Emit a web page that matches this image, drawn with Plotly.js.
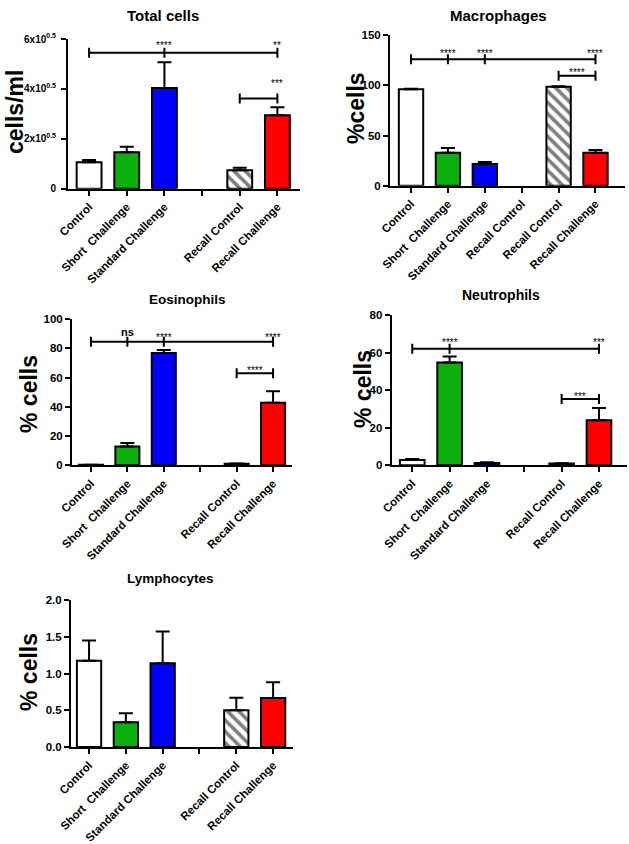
<!DOCTYPE html>
<html>
<head>
<meta charset="utf-8">
<script src="https://cdn.plot.ly/plotly-3.0.1.min.js"></script>
<style>html,body{margin:0;padding:0;background:#fff;}#chart{width:629px;height:844px;}</style>
</head>
<body>
<div id="chart"></div>
<script>
// ---------- DATA ----------
const groupLabels = ["Control", "Short\u00a0 Challenge", "Standard Challenge", "", "Recall Control", "Recall Challenge"];
const macroLabels = ["Control", "Short\u00a0 Challenge", "Standard Challenge", "Recall Control", "Recall Control", "Recall Challenge"];
const barColors = ["#ffffff", "#0cb00c", "#0000ff", "#ffffff", "#ffffff", "#ff0000"];
const hatchedIndex = 4;   // "Recall Control" bar is hatched

const panelTitles = ["Total cells", "Macrophages", "Eosinophils", "Neutrophils", "Lymphocytes"];
const yTitles = ["cells/ml", "%cells", "% cells", "% cells", "% cells"];

const totalMean = [1.06e5, 1.46e5, 4.04e5, null, 0.74e5, 2.94e5];
const totalErr  = [0.09e5, 0.22e5, 1.03e5, null, 0.10e5, 0.32e5];
const totalTickVals = [0, 2e5, 4e5, 6e5];
const totalTickText = ["0", "2x10<sup>0.5</sup>", "4x10<sup>0.5</sup>", "6x10<sup>0.5</sup>"];

const macroMean = [96.1, 32.9, 21.6, null, 98.8, 32.9];
const macroErr  = [0.5, 4.7, 2.0, null, 0.3, 2.7];

const eosMean = [0.3, 12.8, 76.8, null, 1.1, 42.8];
const eosErr  = [0.1, 2.5, 2.0, null, 0.2, 7.8];

const neutMean = [2.8, 54.8, 1.2, null, 0.9, 24.0];
const neutErr  = [0.6, 3.2, 0.4, null, 0.2, 6.6];

const lymphMean = [1.175, 0.336, 1.14, null, 0.50, 0.667];
const lymphErr  = [0.275, 0.122, 0.43, null, 0.17, 0.213];

// significance brackets: from/to category index, y level, tick positions
const totalBrackets = [{from: 0, to: 5, y: 5.45e5, ticks: [0, 2, 5]}, {from: 4, to: 5, y: 3.62e5, ticks: [4, 5]}];
const macroBrackets = [{from: 0, to: 5, y: 126, ticks: [0, 1, 2, 5]}, {from: 4, to: 5, y: 109.7, ticks: [4, 5]}];
const eosBrackets   = [{from: 0, to: 5, y: 84.5, ticks: [0, 1, 2, 5]}, {from: 4, to: 5, y: 62.9, ticks: [4, 5]}];
const neutBrackets  = [{from: 0, to: 5, y: 62.2, ticks: [0, 1, 5]}, {from: 4, to: 5, y: 35.4, ticks: [4, 5]}];

const totalStars = [{x: 2, y: 5.86e5, text: "****"}, {x: 5, y: 5.86e5, text: "**"}, {x: 5, y: 4.32e5, text: "***"}];
const macroStars = [{x: 1, y: 134.7, text: "****"}, {x: 2, y: 134.7, text: "****"}, {x: 5, y: 134.7, text: "****"}, {x: 4.5, y: 115.4, text: "****"}];
const eosStars   = [{x: 1, y: 91.3, text: "ns"}, {x: 2, y: 89.5, text: "****"}, {x: 5, y: 89.5, text: "****"}, {x: 4.5, y: 66.7, text: "****"}];
const neutStars  = [{x: 1, y: 67.2, text: "****"}, {x: 5, y: 67.2, text: "***"}, {x: 4.5, y: 38.4, text: "***"}];

// ---------- LAYOUT GEOMETRY ----------
const W = 629, H = 844;
const FONT = "Liberation Sans, Arial, Helvetica, sans-serif";
const px2x = v => v / W;
const px2y = v => 1 - v / H;

const panels = [
  {mean: totalMean, err: totalErr, labels: groupLabels, brackets: totalBrackets, stars: totalStars,
   xd: [68, 300], yd: [188.7, 39], xr: [-0.56, 5.6], yr: [0, 6e5], tv: totalTickVals, tt: totalTickText, tfs: 10, tso: 3,
   title: [163, 15, 15], ytitle: [15, 112]},
  {mean: macroMean, err: macroErr, labels: macroLabels, brackets: macroBrackets, stars: macroStars,
   xd: [390, 625], yd: [185.7, 35.3], xr: [-0.57, 5.8], yr: [0, 150], tv: [0, 50, 100, 150],
   title: [498, 16, 15], ytitle: [356, 108]},
  {mean: eosMean, err: eosErr, labels: groupLabels, brackets: eosBrackets, stars: eosStars,
   xd: [72, 292], yd: [465.3, 319], xr: [-0.52, 5.52], yr: [0, 100], tv: [0, 20, 40, 60, 80, 100],
   title: [187, 299, 13.5], ytitle: [29, 394]},
  {mean: neutMean, err: neutErr, labels: groupLabels, brackets: neutBrackets, stars: neutStars,
   xd: [391.7, 627], yd: [465.3, 315.3], xr: [-0.55, 5.75], yr: [0, 80], tv: [0, 20, 40, 60, 80],
   title: [501, 295, 14], ytitle: [363, 389]},
  {mean: lymphMean, err: lymphErr, labels: groupLabels, brackets: [], stars: [],
   xd: [71, 293], yd: [747, 600], xr: [-0.49, 5.54], yr: [0, 2], tv: [0, 0.5, 1, 1.5, 2], tt: ["0.0", "0.5", "1.0", "1.5", "2.0"],
   title: [170, 578, 13.5], ytitle: [29, 672]}
];

const traces = [];
const layout = {
  width: W, height: H,
  margin: {l: 0, r: 0, t: 0, b: 0},
  paper_bgcolor: "#ffffff", plot_bgcolor: "rgba(0,0,0,0)",
  showlegend: false, barmode: "overlay",
  font: {family: FONT, color: "#000"},
  shapes: [], annotations: []
};

panels.forEach((p, i) => {
  const n = i === 0 ? "" : String(i + 1);
  const xa = "x" + n, ya = "y" + n;
  const idx = p.labels.map((_, k) => k);
  const plainY = p.mean.map((v, k) => k === hatchedIndex ? null : v);
  const hatchY = p.mean.map((v, k) => k === hatchedIndex ? v : null);
  const errBar = {type: "data", symmetric: false, array: p.err, arrayminus: p.err.map(() => 0),
                  color: "#000", thickness: 2, width: 7};
  traces.push({
    type: "bar", x: idx, y: plainY, xaxis: xa, yaxis: ya, width: 0.66,
    marker: {color: barColors, line: {color: "#000", width: 2}},
    error_y: Object.assign({}, errBar, {array: p.err.map((e, k) => k === hatchedIndex ? null : e)}),
    hoverinfo: "skip"
  });
  traces.push({
    type: "bar", x: idx, y: hatchY, xaxis: xa, yaxis: ya, width: 0.66,
    marker: {color: "#ffffff", line: {color: "#000", width: 2},
             pattern: {shape: "\\", fillmode: "overlay", fgcolor: "#000", bgcolor: "#ffffff", size: 8, solidity: 0.45}},
    error_y: Object.assign({}, errBar, {array: p.err.map((e, k) => k === hatchedIndex ? e : null)}),
    hoverinfo: "skip"
  });
  layout["xaxis" + n] = {
    domain: [px2x(p.xd[0]), px2x(p.xd[1])], range: p.xr, anchor: ya,
    tickmode: "array", tickvals: idx, ticktext: p.labels, tickangle: -45,
    tickfont: {size: 11.5, weight: "bold", family: FONT},
    showline: true, linewidth: 2, linecolor: "#000", ticks: "outside", ticklen: 5, tickwidth: 2, tickcolor: "#000",
    showgrid: false, zeroline: false, fixedrange: true
  };
  const yax = {
    domain: [px2y(p.yd[0]), px2y(p.yd[1])], range: p.yr, anchor: xa,
    tickmode: "array", tickvals: p.tv,
    tickfont: {size: p.tfs || 11.5, weight: "bold", family: FONT},
    showline: true, linewidth: 2, linecolor: "#000", ticks: "outside", ticklen: 5, tickwidth: 2, tickcolor: "#000",
    showgrid: false, zeroline: false, fixedrange: true
  };
  if (p.tt) yax.ticktext = p.tt;
  if (p.tso) yax.ticklabelstandoff = p.tso;
  layout["yaxis" + n] = yax;

  p.brackets.forEach(b => {
    layout.shapes.push({type: "line", xref: xa, yref: ya, x0: b.from, x1: b.to, y0: b.y, y1: b.y,
                        line: {color: "#000", width: 2}});
    b.ticks.forEach(t => {
      layout.shapes.push({type: "line", xref: xa, yref: ya, x0: t, x1: t, ysizemode: "pixel", yanchor: b.y,
                          y0: -5, y1: 5, line: {color: "#000", width: 2}});
    });
  });
  p.stars.forEach(s => {
    const ns = s.text === "ns";
    layout.annotations.push({xref: xa, yref: ya, x: s.x, y: s.y, text: s.text, showarrow: false,
      yanchor: "middle", yshift: ns ? 0 : -3,
      font: {size: ns ? 11 : 10, color: "#000", weight: ns ? "bold" : "normal", family: FONT}});
  });
  layout.annotations.push({xref: "paper", yref: "paper", x: px2x(p.title[0]), y: px2y(p.title[1]),
    text: panelTitles[i], showarrow: false, xanchor: "center", yanchor: "middle",
    font: {size: p.title[2], weight: "bold", family: FONT}});
  layout.annotations.push({xref: "paper", yref: "paper", x: px2x(p.ytitle[0]), y: px2y(p.ytitle[1]),
    text: yTitles[i], showarrow: false, textangle: -90, xanchor: "center", yanchor: "middle",
    font: {size: 23, weight: "bold", family: FONT}});
});

Plotly.newPlot("chart", traces, layout, {staticPlot: true, displayModeBar: false});
</script>
</body>
</html>
